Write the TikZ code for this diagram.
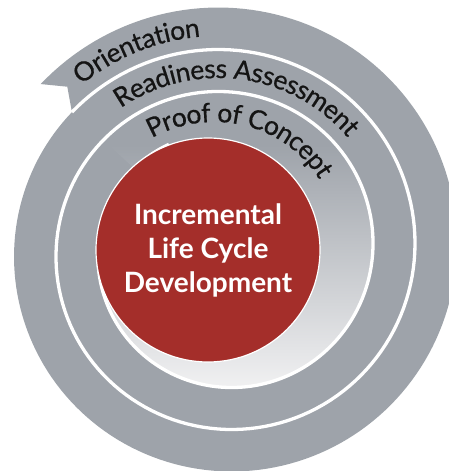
\documentclass[tikz,border=0pt]{standalone}
\usepackage{fontspec}
\setmainfont{Lato}
\newfontface\bandface{Lato}[FakeBold=0.6]
\usetikzlibrary{decorations.text}

\definecolor{spiralgray}{RGB}{158,163,170}
\definecolor{spirallight}{RGB}{243,243,244}
\definecolor{corered}{RGB}{164,46,42}
\definecolor{bandink}{RGB}{20,20,20}

\newcommand\bandfont{\bandface\fontsize{26.5}{30}\selectfont\color{bandink}}
\newcommand\corefont{\fontsize{28}{34}\selectfont\bfseries}

\begin{document}
\begin{tikzpicture}[x=1pt,y=1pt,line join=bevel,
  spiralline/.style={white,line width=3.3pt},
  bandtext/.style={decorate,decoration={text along path,text align=center,raise=-7.5pt,text={#1}}},
  core/.style={circle,fill=corered,draw=white,line width=1.2pt,minimum size=224pt,inner sep=0pt,text=white,align=center,font=\corefont}]
%%
\useasboundingbox (-225,-221) rectangle (224,250);
\fill[spiralgray] plot[domain=0:360,samples=180,variable=\t] ({(248-0.1167*\t)*cos(138-\t)},{(248-0.1167*\t)*sin(138-\t)}) -- (134:227) -- cycle;
\begin{scope}
  \clip plot[domain=360:720,samples=180,variable=\t] ({(206-0.1167*\t)*cos(138-\t)},{(206-0.1167*\t)*sin(138-\t)}) -- cycle;
  \fill[spiralgray] (-170,105) rectangle (170,170);
  \shade[top color=spiralgray,bottom color=spirallight] (-170,-145) rectangle (170,105);
  \fill[spirallight] (-170,-170) rectangle (170,-145);
\end{scope}
\draw[spiralline] plot[domain=0:740,samples=300,variable=\t] ({(206-0.1167*\t)*cos(138-\t)},{(206-0.1167*\t)*sin(138-\t)});
\node[core] (core) at (-17,0) {Incremental\\Life Cycle\\Development};
%
\path[bandtext=|\bandfont|Orientation] plot[domain=-30:80,samples=80,variable=\t] ({(227-0.1167*\t)*cos(138-\t)},{(227-0.1167*\t)*sin(138-\t)});
\path[bandtext=|\bandfont|Readiness Assessment] plot[domain=-20:130,samples=100,variable=\t] ({(185-0.1167*\t)*cos(138-\t)},{(185-0.1167*\t)*sin(138-\t)});
\path[bandtext=|\bandfont|Proof of Concept] plot[domain=-5:125,samples=100,variable=\t] ({(144-0.185*\t)*cos(138-\t)},{(144-0.185*\t)*sin(138-\t)});
%
\end{tikzpicture}
\end{document}
